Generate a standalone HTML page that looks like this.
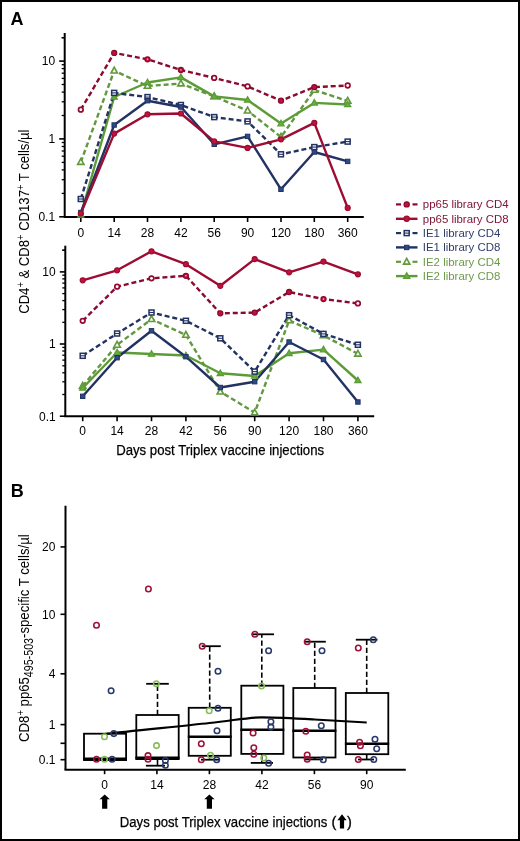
<!DOCTYPE html>
<html><head><meta charset="utf-8"><style>html,body{margin:0;padding:0;background:#fff;width:520px;height:841px;overflow:hidden}svg{display:block;will-change:transform}</style></head><body>
<svg width="520" height="841" viewBox="0 0 520 841">
<rect x="0" y="0" width="520" height="841" fill="#fff"/>
<text x="10.5" y="24.6" font-size="18" font-weight="bold" font-family="Liberation Sans, sans-serif">A</text>
<text x="10.8" y="496.9" font-size="18" font-weight="bold" font-family="Liberation Sans, sans-serif">B</text>
<line x1="64.7" y1="33" x2="64.7" y2="217" stroke="#000" stroke-width="2"/>
<line x1="63.7" y1="217" x2="363.8" y2="217" stroke="#000" stroke-width="2"/>
<line x1="61.7" y1="193.4" x2="64.7" y2="193.4" stroke="#000" stroke-width="1.3"/>
<line x1="61.7" y1="179.7" x2="64.7" y2="179.7" stroke="#000" stroke-width="1.3"/>
<line x1="61.7" y1="169.9" x2="64.7" y2="169.9" stroke="#000" stroke-width="1.3"/>
<line x1="61.7" y1="162.4" x2="64.7" y2="162.4" stroke="#000" stroke-width="1.3"/>
<line x1="61.7" y1="156.2" x2="64.7" y2="156.2" stroke="#000" stroke-width="1.3"/>
<line x1="61.7" y1="151.0" x2="64.7" y2="151.0" stroke="#000" stroke-width="1.3"/>
<line x1="61.7" y1="146.5" x2="64.7" y2="146.5" stroke="#000" stroke-width="1.3"/>
<line x1="61.7" y1="142.5" x2="64.7" y2="142.5" stroke="#000" stroke-width="1.3"/>
<line x1="61.7" y1="115.5" x2="64.7" y2="115.5" stroke="#000" stroke-width="1.3"/>
<line x1="61.7" y1="101.8" x2="64.7" y2="101.8" stroke="#000" stroke-width="1.3"/>
<line x1="61.7" y1="92.1" x2="64.7" y2="92.1" stroke="#000" stroke-width="1.3"/>
<line x1="61.7" y1="84.5" x2="64.7" y2="84.5" stroke="#000" stroke-width="1.3"/>
<line x1="61.7" y1="78.4" x2="64.7" y2="78.4" stroke="#000" stroke-width="1.3"/>
<line x1="61.7" y1="73.2" x2="64.7" y2="73.2" stroke="#000" stroke-width="1.3"/>
<line x1="61.7" y1="68.6" x2="64.7" y2="68.6" stroke="#000" stroke-width="1.3"/>
<line x1="61.7" y1="64.7" x2="64.7" y2="64.7" stroke="#000" stroke-width="1.3"/>
<line x1="61.7" y1="37.7" x2="64.7" y2="37.7" stroke="#000" stroke-width="1.3"/>
<line x1="61.7" y1="37.7" x2="64.7" y2="37.7" stroke="#000" stroke-width="1.3"/>
<line x1="59.2" y1="61.1" x2="64.7" y2="61.1" stroke="#000" stroke-width="1.6"/>
<text x="55.1" y="65.4" text-anchor="end" font-size="12" font-family="Liberation Sans, sans-serif">10</text>
<line x1="59.2" y1="138.9" x2="64.7" y2="138.9" stroke="#000" stroke-width="1.6"/>
<text x="55.1" y="143.2" text-anchor="end" font-size="12" font-family="Liberation Sans, sans-serif">1</text>
<line x1="59.2" y1="216.8" x2="64.7" y2="216.8" stroke="#000" stroke-width="1.6"/>
<text x="55.1" y="221.1" text-anchor="end" font-size="12" font-family="Liberation Sans, sans-serif">0.1</text>
<line x1="80.8" y1="217" x2="80.8" y2="222" stroke="#000" stroke-width="1.6"/>
<text x="80.8" y="237.0" text-anchor="middle" font-size="12" font-family="Liberation Sans, sans-serif">0</text>
<line x1="114.2" y1="217" x2="114.2" y2="222" stroke="#000" stroke-width="1.6"/>
<text x="114.2" y="237.0" text-anchor="middle" font-size="12" font-family="Liberation Sans, sans-serif">14</text>
<line x1="147.5" y1="217" x2="147.5" y2="222" stroke="#000" stroke-width="1.6"/>
<text x="147.5" y="237.0" text-anchor="middle" font-size="12" font-family="Liberation Sans, sans-serif">28</text>
<line x1="180.9" y1="217" x2="180.9" y2="222" stroke="#000" stroke-width="1.6"/>
<text x="180.9" y="237.0" text-anchor="middle" font-size="12" font-family="Liberation Sans, sans-serif">42</text>
<line x1="214.2" y1="217" x2="214.2" y2="222" stroke="#000" stroke-width="1.6"/>
<text x="214.2" y="237.0" text-anchor="middle" font-size="12" font-family="Liberation Sans, sans-serif">56</text>
<line x1="247.6" y1="217" x2="247.6" y2="222" stroke="#000" stroke-width="1.6"/>
<text x="247.6" y="237.0" text-anchor="middle" font-size="12" font-family="Liberation Sans, sans-serif">90</text>
<line x1="281.0" y1="217" x2="281.0" y2="222" stroke="#000" stroke-width="1.6"/>
<text x="281.0" y="237.0" text-anchor="middle" font-size="12" font-family="Liberation Sans, sans-serif">120</text>
<line x1="314.3" y1="217" x2="314.3" y2="222" stroke="#000" stroke-width="1.6"/>
<text x="314.3" y="237.0" text-anchor="middle" font-size="12" font-family="Liberation Sans, sans-serif">180</text>
<line x1="347.7" y1="217" x2="347.7" y2="222" stroke="#000" stroke-width="1.6"/>
<text x="347.7" y="237.0" text-anchor="middle" font-size="12" font-family="Liberation Sans, sans-serif">360</text>
<polyline points="80.8,162.1 114.2,70.7 147.5,86.0 180.9,83.6 214.2,96.4 247.6,110.7 281.0,137.0 314.3,90.0 347.7,101.0" fill="none" stroke="#62983f" stroke-width="2.4" stroke-dasharray="5,2.9" stroke-linejoin="round"/>
<polyline points="80.8,215.0 114.2,97.0 147.5,82.5 180.9,77.4 214.2,96.4 247.6,100.0 281.0,123.6 314.3,102.9 347.7,104.5" fill="none" stroke="#5c9c36" stroke-width="2.4" stroke-linejoin="round"/>
<polyline points="80.8,199.0 114.2,92.9 147.5,97.1 180.9,105.0 214.2,117.1 247.6,121.4 281.0,154.3 314.3,147.1 347.7,141.6" fill="none" stroke="#223262" stroke-width="2.4" stroke-dasharray="5,2.9" stroke-linejoin="round"/>
<polyline points="80.8,212.5 114.2,125.0 147.5,100.7 180.9,107.0 214.2,144.3 247.6,136.4 281.0,189.3 314.3,152.0 347.7,161.4" fill="none" stroke="#223262" stroke-width="2.4" stroke-linejoin="round"/>
<polyline points="80.8,109.7 114.2,52.9 147.5,59.3 180.9,70.0 214.2,77.9 247.6,86.4 281.0,100.7 314.3,87.1 347.7,85.5" fill="none" stroke="#8a0b30" stroke-width="2.4" stroke-dasharray="5,2.9" stroke-linejoin="round"/>
<polyline points="80.8,213.5 114.2,133.6 147.5,114.3 180.9,113.5 214.2,141.4 247.6,147.9 281.0,139.3 314.3,122.9 347.7,207.9" fill="none" stroke="#9c0c33" stroke-width="2.4" stroke-linejoin="round"/>
<polygon points="80.8,158.6 77.6,164.4 84.0,164.4" fill="#f4faef" stroke="#62983f" stroke-width="1.6" stroke-linejoin="miter"/>
<polygon points="114.2,67.2 111.0,73.0 117.4,73.0" fill="#f4faef" stroke="#62983f" stroke-width="1.6" stroke-linejoin="miter"/>
<polygon points="147.5,82.5 144.3,88.3 150.7,88.3" fill="#f4faef" stroke="#62983f" stroke-width="1.6" stroke-linejoin="miter"/>
<polygon points="180.9,80.1 177.7,85.9 184.1,85.9" fill="#f4faef" stroke="#62983f" stroke-width="1.6" stroke-linejoin="miter"/>
<polygon points="214.2,92.9 211.0,98.7 217.4,98.7" fill="#f4faef" stroke="#62983f" stroke-width="1.6" stroke-linejoin="miter"/>
<polygon points="247.6,107.2 244.4,113.0 250.8,113.0" fill="#f4faef" stroke="#62983f" stroke-width="1.6" stroke-linejoin="miter"/>
<polygon points="281.0,133.5 277.8,139.3 284.2,139.3" fill="#f4faef" stroke="#62983f" stroke-width="1.6" stroke-linejoin="miter"/>
<polygon points="314.3,86.5 311.1,92.3 317.5,92.3" fill="#f4faef" stroke="#62983f" stroke-width="1.6" stroke-linejoin="miter"/>
<polygon points="347.7,97.5 344.5,103.3 350.9,103.3" fill="#f4faef" stroke="#62983f" stroke-width="1.6" stroke-linejoin="miter"/>
<polygon points="80.8,211.7 77.7,217.2 83.9,217.2" fill="#66b03a" stroke="#5c9c36" stroke-width="1.3" stroke-linejoin="miter"/>
<polygon points="114.2,93.7 111.1,99.2 117.3,99.2" fill="#66b03a" stroke="#5c9c36" stroke-width="1.3" stroke-linejoin="miter"/>
<polygon points="147.5,79.2 144.4,84.7 150.6,84.7" fill="#66b03a" stroke="#5c9c36" stroke-width="1.3" stroke-linejoin="miter"/>
<polygon points="180.9,74.1 177.8,79.6 184.0,79.6" fill="#66b03a" stroke="#5c9c36" stroke-width="1.3" stroke-linejoin="miter"/>
<polygon points="214.2,93.1 211.1,98.6 217.3,98.6" fill="#66b03a" stroke="#5c9c36" stroke-width="1.3" stroke-linejoin="miter"/>
<polygon points="247.6,96.7 244.5,102.2 250.7,102.2" fill="#66b03a" stroke="#5c9c36" stroke-width="1.3" stroke-linejoin="miter"/>
<polygon points="281.0,120.3 277.9,125.8 284.1,125.8" fill="#66b03a" stroke="#5c9c36" stroke-width="1.3" stroke-linejoin="miter"/>
<polygon points="314.3,99.6 311.2,105.1 317.4,105.1" fill="#66b03a" stroke="#5c9c36" stroke-width="1.3" stroke-linejoin="miter"/>
<polygon points="347.7,101.2 344.6,106.7 350.8,106.7" fill="#66b03a" stroke="#5c9c36" stroke-width="1.3" stroke-linejoin="miter"/>
<rect x="78.30" y="196.50" width="5.0" height="5.0" fill="#ffffff" stroke="#223262" stroke-width="1.5"/>
<line x1="78.30" y1="199.00" x2="83.30" y2="199.00" stroke="#223262" stroke-width="1.1"/>
<rect x="111.66" y="90.40" width="5.0" height="5.0" fill="#ffffff" stroke="#223262" stroke-width="1.5"/>
<line x1="111.66" y1="92.90" x2="116.66" y2="92.90" stroke="#223262" stroke-width="1.1"/>
<rect x="145.02" y="94.60" width="5.0" height="5.0" fill="#ffffff" stroke="#223262" stroke-width="1.5"/>
<line x1="145.02" y1="97.10" x2="150.02" y2="97.10" stroke="#223262" stroke-width="1.1"/>
<rect x="178.38" y="102.50" width="5.0" height="5.0" fill="#ffffff" stroke="#223262" stroke-width="1.5"/>
<line x1="178.38" y1="105.00" x2="183.38" y2="105.00" stroke="#223262" stroke-width="1.1"/>
<rect x="211.74" y="114.60" width="5.0" height="5.0" fill="#ffffff" stroke="#223262" stroke-width="1.5"/>
<line x1="211.74" y1="117.10" x2="216.74" y2="117.10" stroke="#223262" stroke-width="1.1"/>
<rect x="245.10" y="118.90" width="5.0" height="5.0" fill="#ffffff" stroke="#223262" stroke-width="1.5"/>
<line x1="245.10" y1="121.40" x2="250.10" y2="121.40" stroke="#223262" stroke-width="1.1"/>
<rect x="278.46" y="151.80" width="5.0" height="5.0" fill="#ffffff" stroke="#223262" stroke-width="1.5"/>
<line x1="278.46" y1="154.30" x2="283.46" y2="154.30" stroke="#223262" stroke-width="1.1"/>
<rect x="311.82" y="144.60" width="5.0" height="5.0" fill="#ffffff" stroke="#223262" stroke-width="1.5"/>
<line x1="311.82" y1="147.10" x2="316.82" y2="147.10" stroke="#223262" stroke-width="1.1"/>
<rect x="345.18" y="139.10" width="5.0" height="5.0" fill="#ffffff" stroke="#223262" stroke-width="1.5"/>
<line x1="345.18" y1="141.60" x2="350.18" y2="141.60" stroke="#223262" stroke-width="1.1"/>
<rect x="78.60" y="210.30" width="4.4" height="4.4" fill="#2c4a85" stroke="#223262" stroke-width="1.0"/>
<rect x="111.96" y="122.80" width="4.4" height="4.4" fill="#2c4a85" stroke="#223262" stroke-width="1.0"/>
<rect x="145.32" y="98.50" width="4.4" height="4.4" fill="#2c4a85" stroke="#223262" stroke-width="1.0"/>
<rect x="178.68" y="104.80" width="4.4" height="4.4" fill="#2c4a85" stroke="#223262" stroke-width="1.0"/>
<rect x="212.04" y="142.10" width="4.4" height="4.4" fill="#2c4a85" stroke="#223262" stroke-width="1.0"/>
<rect x="245.40" y="134.20" width="4.4" height="4.4" fill="#2c4a85" stroke="#223262" stroke-width="1.0"/>
<rect x="278.76" y="187.10" width="4.4" height="4.4" fill="#2c4a85" stroke="#223262" stroke-width="1.0"/>
<rect x="312.12" y="149.80" width="4.4" height="4.4" fill="#2c4a85" stroke="#223262" stroke-width="1.0"/>
<rect x="345.48" y="159.20" width="4.4" height="4.4" fill="#2c4a85" stroke="#223262" stroke-width="1.0"/>
<circle cx="80.8" cy="109.7" r="2.5" fill="#c3113a" stroke="#8a0b30" stroke-width="1.3"/>
<circle cx="80.8" cy="109.7" r="1.4" fill="#fff"/>
<circle cx="114.2" cy="52.9" r="2.5" fill="#c3113a" stroke="#8a0b30" stroke-width="1.3"/>
<circle cx="147.5" cy="59.3" r="2.5" fill="#c3113a" stroke="#8a0b30" stroke-width="1.3"/>
<circle cx="147.5" cy="59.3" r="0.8" fill="#f4c0cc"/>
<circle cx="180.9" cy="70.0" r="2.5" fill="#c3113a" stroke="#8a0b30" stroke-width="1.3"/>
<circle cx="180.9" cy="70.0" r="0.8" fill="#f4c0cc"/>
<circle cx="214.2" cy="77.9" r="2.5" fill="#c3113a" stroke="#8a0b30" stroke-width="1.3"/>
<circle cx="214.2" cy="77.9" r="1.4" fill="#fff"/>
<circle cx="247.6" cy="86.4" r="2.5" fill="#c3113a" stroke="#8a0b30" stroke-width="1.3"/>
<circle cx="247.6" cy="86.4" r="1.4" fill="#fff"/>
<circle cx="281.0" cy="100.7" r="2.5" fill="#c3113a" stroke="#8a0b30" stroke-width="1.3"/>
<circle cx="314.3" cy="87.1" r="2.5" fill="#c3113a" stroke="#8a0b30" stroke-width="1.3"/>
<circle cx="347.7" cy="85.5" r="2.5" fill="#c3113a" stroke="#8a0b30" stroke-width="1.3"/>
<circle cx="347.7" cy="85.5" r="1.4" fill="#fff"/>
<circle cx="80.8" cy="213.5" r="2.5" fill="#c3113a" stroke="#9c0c33" stroke-width="1.2"/>
<circle cx="114.2" cy="133.6" r="2.5" fill="#c3113a" stroke="#9c0c33" stroke-width="1.2"/>
<circle cx="147.5" cy="114.3" r="2.5" fill="#c3113a" stroke="#9c0c33" stroke-width="1.2"/>
<circle cx="180.9" cy="113.5" r="2.5" fill="#c3113a" stroke="#9c0c33" stroke-width="1.2"/>
<circle cx="214.2" cy="141.4" r="2.5" fill="#c3113a" stroke="#9c0c33" stroke-width="1.2"/>
<circle cx="247.6" cy="147.9" r="2.5" fill="#c3113a" stroke="#9c0c33" stroke-width="1.2"/>
<circle cx="281.0" cy="139.3" r="2.5" fill="#c3113a" stroke="#9c0c33" stroke-width="1.2"/>
<circle cx="314.3" cy="122.9" r="2.5" fill="#c3113a" stroke="#9c0c33" stroke-width="1.2"/>
<circle cx="347.7" cy="207.9" r="2.5" fill="#c3113a" stroke="#9c0c33" stroke-width="1.2"/>
<line x1="65.3" y1="245.7" x2="65.3" y2="416.2" stroke="#000" stroke-width="2"/>
<line x1="64.3" y1="416.2" x2="374.2" y2="416.2" stroke="#000" stroke-width="2"/>
<line x1="62.3" y1="394.5" x2="65.3" y2="394.5" stroke="#000" stroke-width="1.3"/>
<line x1="62.3" y1="381.8" x2="65.3" y2="381.8" stroke="#000" stroke-width="1.3"/>
<line x1="62.3" y1="372.8" x2="65.3" y2="372.8" stroke="#000" stroke-width="1.3"/>
<line x1="62.3" y1="365.8" x2="65.3" y2="365.8" stroke="#000" stroke-width="1.3"/>
<line x1="62.3" y1="360.1" x2="65.3" y2="360.1" stroke="#000" stroke-width="1.3"/>
<line x1="62.3" y1="355.2" x2="65.3" y2="355.2" stroke="#000" stroke-width="1.3"/>
<line x1="62.3" y1="351.0" x2="65.3" y2="351.0" stroke="#000" stroke-width="1.3"/>
<line x1="62.3" y1="347.4" x2="65.3" y2="347.4" stroke="#000" stroke-width="1.3"/>
<line x1="62.3" y1="322.3" x2="65.3" y2="322.3" stroke="#000" stroke-width="1.3"/>
<line x1="62.3" y1="309.6" x2="65.3" y2="309.6" stroke="#000" stroke-width="1.3"/>
<line x1="62.3" y1="300.6" x2="65.3" y2="300.6" stroke="#000" stroke-width="1.3"/>
<line x1="62.3" y1="293.6" x2="65.3" y2="293.6" stroke="#000" stroke-width="1.3"/>
<line x1="62.3" y1="287.9" x2="65.3" y2="287.9" stroke="#000" stroke-width="1.3"/>
<line x1="62.3" y1="283.1" x2="65.3" y2="283.1" stroke="#000" stroke-width="1.3"/>
<line x1="62.3" y1="278.9" x2="65.3" y2="278.9" stroke="#000" stroke-width="1.3"/>
<line x1="62.3" y1="275.2" x2="65.3" y2="275.2" stroke="#000" stroke-width="1.3"/>
<line x1="62.3" y1="250.2" x2="65.3" y2="250.2" stroke="#000" stroke-width="1.3"/>
<line x1="62.3" y1="250.2" x2="65.3" y2="250.2" stroke="#000" stroke-width="1.3"/>
<line x1="59.8" y1="271.9" x2="65.3" y2="271.9" stroke="#000" stroke-width="1.6"/>
<text x="55.699999999999996" y="276.2" text-anchor="end" font-size="12" font-family="Liberation Sans, sans-serif">10</text>
<line x1="59.8" y1="344.0" x2="65.3" y2="344.0" stroke="#000" stroke-width="1.6"/>
<text x="55.699999999999996" y="348.3" text-anchor="end" font-size="12" font-family="Liberation Sans, sans-serif">1</text>
<line x1="59.8" y1="416.2" x2="65.3" y2="416.2" stroke="#000" stroke-width="1.6"/>
<text x="55.699999999999996" y="420.5" text-anchor="end" font-size="12" font-family="Liberation Sans, sans-serif">0.1</text>
<line x1="82.7" y1="416.2" x2="82.7" y2="421.2" stroke="#000" stroke-width="1.6"/>
<text x="82.7" y="434.7" text-anchor="middle" font-size="12" font-family="Liberation Sans, sans-serif">0</text>
<line x1="117.1" y1="416.2" x2="117.1" y2="421.2" stroke="#000" stroke-width="1.6"/>
<text x="117.1" y="434.7" text-anchor="middle" font-size="12" font-family="Liberation Sans, sans-serif">14</text>
<line x1="151.5" y1="416.2" x2="151.5" y2="421.2" stroke="#000" stroke-width="1.6"/>
<text x="151.5" y="434.7" text-anchor="middle" font-size="12" font-family="Liberation Sans, sans-serif">28</text>
<line x1="185.9" y1="416.2" x2="185.9" y2="421.2" stroke="#000" stroke-width="1.6"/>
<text x="185.9" y="434.7" text-anchor="middle" font-size="12" font-family="Liberation Sans, sans-serif">42</text>
<line x1="220.3" y1="416.2" x2="220.3" y2="421.2" stroke="#000" stroke-width="1.6"/>
<text x="220.3" y="434.7" text-anchor="middle" font-size="12" font-family="Liberation Sans, sans-serif">56</text>
<line x1="254.7" y1="416.2" x2="254.7" y2="421.2" stroke="#000" stroke-width="1.6"/>
<text x="254.7" y="434.7" text-anchor="middle" font-size="12" font-family="Liberation Sans, sans-serif">90</text>
<line x1="289.1" y1="416.2" x2="289.1" y2="421.2" stroke="#000" stroke-width="1.6"/>
<text x="289.1" y="434.7" text-anchor="middle" font-size="12" font-family="Liberation Sans, sans-serif">120</text>
<line x1="323.5" y1="416.2" x2="323.5" y2="421.2" stroke="#000" stroke-width="1.6"/>
<text x="323.5" y="434.7" text-anchor="middle" font-size="12" font-family="Liberation Sans, sans-serif">180</text>
<line x1="357.9" y1="416.2" x2="357.9" y2="421.2" stroke="#000" stroke-width="1.6"/>
<text x="357.9" y="434.7" text-anchor="middle" font-size="12" font-family="Liberation Sans, sans-serif">360</text>
<polyline points="82.7,386.0 117.1,344.9 151.5,319.2 185.9,335.0 220.3,391.7 254.7,412.6 289.1,320.5 323.5,335.5 357.9,353.8" fill="none" stroke="#62983f" stroke-width="2.4" stroke-dasharray="5,2.9" stroke-linejoin="round"/>
<polyline points="82.7,388.0 117.1,352.5 151.5,354.0 185.9,355.5 220.3,373.3 254.7,376.0 289.1,353.3 323.5,349.6 357.9,380.5" fill="none" stroke="#5c9c36" stroke-width="2.4" stroke-linejoin="round"/>
<polyline points="82.7,355.8 117.1,333.5 151.5,312.5 185.9,320.8 220.3,338.3 254.7,371.6 289.1,315.2 323.5,333.9 357.9,344.8" fill="none" stroke="#223262" stroke-width="2.4" stroke-dasharray="5,2.9" stroke-linejoin="round"/>
<polyline points="82.7,396.3 117.1,357.7 151.5,330.8 185.9,356.7 220.3,387.5 254.7,381.7 289.1,342.0 323.5,359.5 357.9,402.0" fill="none" stroke="#223262" stroke-width="2.4" stroke-linejoin="round"/>
<polyline points="82.7,320.8 117.1,286.7 151.5,278.3 185.9,275.8 220.3,313.3 254.7,312.6 289.1,292.0 323.5,299.1 357.9,303.4" fill="none" stroke="#8a0b30" stroke-width="2.4" stroke-dasharray="5,2.9" stroke-linejoin="round"/>
<polyline points="82.7,280.3 117.1,270.3 151.5,251.3 185.9,264.2 220.3,285.8 254.7,259.1 289.1,272.3 323.5,261.6 357.9,274.3" fill="none" stroke="#9c0c33" stroke-width="2.4" stroke-linejoin="round"/>
<polygon points="82.7,382.5 79.5,388.3 85.9,388.3" fill="#f4faef" stroke="#62983f" stroke-width="1.6" stroke-linejoin="miter"/>
<polygon points="117.1,341.4 113.9,347.2 120.3,347.2" fill="#f4faef" stroke="#62983f" stroke-width="1.6" stroke-linejoin="miter"/>
<polygon points="151.5,315.7 148.3,321.5 154.7,321.5" fill="#f4faef" stroke="#62983f" stroke-width="1.6" stroke-linejoin="miter"/>
<polygon points="185.9,331.5 182.7,337.3 189.1,337.3" fill="#f4faef" stroke="#62983f" stroke-width="1.6" stroke-linejoin="miter"/>
<polygon points="220.3,388.2 217.1,394.0 223.5,394.0" fill="#f4faef" stroke="#62983f" stroke-width="1.6" stroke-linejoin="miter"/>
<polygon points="254.7,409.1 251.5,414.9 257.9,414.9" fill="#f4faef" stroke="#62983f" stroke-width="1.6" stroke-linejoin="miter"/>
<polygon points="289.1,317.0 285.9,322.8 292.3,322.8" fill="#f4faef" stroke="#62983f" stroke-width="1.6" stroke-linejoin="miter"/>
<polygon points="323.5,332.0 320.3,337.8 326.7,337.8" fill="#f4faef" stroke="#62983f" stroke-width="1.6" stroke-linejoin="miter"/>
<polygon points="357.9,350.3 354.7,356.1 361.1,356.1" fill="#f4faef" stroke="#62983f" stroke-width="1.6" stroke-linejoin="miter"/>
<polygon points="82.7,384.7 79.6,390.2 85.8,390.2" fill="#66b03a" stroke="#5c9c36" stroke-width="1.3" stroke-linejoin="miter"/>
<polygon points="117.1,349.2 114.0,354.7 120.2,354.7" fill="#66b03a" stroke="#5c9c36" stroke-width="1.3" stroke-linejoin="miter"/>
<polygon points="151.5,350.7 148.4,356.2 154.6,356.2" fill="#66b03a" stroke="#5c9c36" stroke-width="1.3" stroke-linejoin="miter"/>
<polygon points="185.9,352.2 182.8,357.7 189.0,357.7" fill="#66b03a" stroke="#5c9c36" stroke-width="1.3" stroke-linejoin="miter"/>
<polygon points="220.3,370.0 217.2,375.5 223.4,375.5" fill="#66b03a" stroke="#5c9c36" stroke-width="1.3" stroke-linejoin="miter"/>
<polygon points="254.7,372.7 251.6,378.2 257.8,378.2" fill="#66b03a" stroke="#5c9c36" stroke-width="1.3" stroke-linejoin="miter"/>
<polygon points="289.1,350.0 286.0,355.5 292.2,355.5" fill="#66b03a" stroke="#5c9c36" stroke-width="1.3" stroke-linejoin="miter"/>
<polygon points="323.5,346.3 320.4,351.8 326.6,351.8" fill="#66b03a" stroke="#5c9c36" stroke-width="1.3" stroke-linejoin="miter"/>
<polygon points="357.9,377.2 354.8,382.7 361.0,382.7" fill="#66b03a" stroke="#5c9c36" stroke-width="1.3" stroke-linejoin="miter"/>
<rect x="80.20" y="353.30" width="5.0" height="5.0" fill="#ffffff" stroke="#223262" stroke-width="1.5"/>
<line x1="80.20" y1="355.80" x2="85.20" y2="355.80" stroke="#223262" stroke-width="1.1"/>
<rect x="114.60" y="331.00" width="5.0" height="5.0" fill="#ffffff" stroke="#223262" stroke-width="1.5"/>
<line x1="114.60" y1="333.50" x2="119.60" y2="333.50" stroke="#223262" stroke-width="1.1"/>
<rect x="149.00" y="310.00" width="5.0" height="5.0" fill="#ffffff" stroke="#223262" stroke-width="1.5"/>
<line x1="149.00" y1="312.50" x2="154.00" y2="312.50" stroke="#223262" stroke-width="1.1"/>
<rect x="183.40" y="318.30" width="5.0" height="5.0" fill="#ffffff" stroke="#223262" stroke-width="1.5"/>
<line x1="183.40" y1="320.80" x2="188.40" y2="320.80" stroke="#223262" stroke-width="1.1"/>
<rect x="217.80" y="335.80" width="5.0" height="5.0" fill="#ffffff" stroke="#223262" stroke-width="1.5"/>
<line x1="217.80" y1="338.30" x2="222.80" y2="338.30" stroke="#223262" stroke-width="1.1"/>
<rect x="252.20" y="369.10" width="5.0" height="5.0" fill="#ffffff" stroke="#223262" stroke-width="1.5"/>
<line x1="252.20" y1="371.60" x2="257.20" y2="371.60" stroke="#223262" stroke-width="1.1"/>
<rect x="286.60" y="312.70" width="5.0" height="5.0" fill="#ffffff" stroke="#223262" stroke-width="1.5"/>
<line x1="286.60" y1="315.20" x2="291.60" y2="315.20" stroke="#223262" stroke-width="1.1"/>
<rect x="321.00" y="331.40" width="5.0" height="5.0" fill="#ffffff" stroke="#223262" stroke-width="1.5"/>
<line x1="321.00" y1="333.90" x2="326.00" y2="333.90" stroke="#223262" stroke-width="1.1"/>
<rect x="355.40" y="342.30" width="5.0" height="5.0" fill="#ffffff" stroke="#223262" stroke-width="1.5"/>
<line x1="355.40" y1="344.80" x2="360.40" y2="344.80" stroke="#223262" stroke-width="1.1"/>
<rect x="80.50" y="394.10" width="4.4" height="4.4" fill="#2c4a85" stroke="#223262" stroke-width="1.0"/>
<rect x="114.90" y="355.50" width="4.4" height="4.4" fill="#2c4a85" stroke="#223262" stroke-width="1.0"/>
<rect x="149.30" y="328.60" width="4.4" height="4.4" fill="#2c4a85" stroke="#223262" stroke-width="1.0"/>
<rect x="183.70" y="354.50" width="4.4" height="4.4" fill="#2c4a85" stroke="#223262" stroke-width="1.0"/>
<rect x="218.10" y="385.30" width="4.4" height="4.4" fill="#2c4a85" stroke="#223262" stroke-width="1.0"/>
<rect x="252.50" y="379.50" width="4.4" height="4.4" fill="#2c4a85" stroke="#223262" stroke-width="1.0"/>
<rect x="286.90" y="339.80" width="4.4" height="4.4" fill="#2c4a85" stroke="#223262" stroke-width="1.0"/>
<rect x="321.30" y="357.30" width="4.4" height="4.4" fill="#2c4a85" stroke="#223262" stroke-width="1.0"/>
<rect x="355.70" y="399.80" width="4.4" height="4.4" fill="#2c4a85" stroke="#223262" stroke-width="1.0"/>
<circle cx="82.7" cy="320.8" r="2.5" fill="#c3113a" stroke="#8a0b30" stroke-width="1.3"/>
<circle cx="82.7" cy="320.8" r="1.4" fill="#fff"/>
<circle cx="117.1" cy="286.7" r="2.5" fill="#c3113a" stroke="#8a0b30" stroke-width="1.3"/>
<circle cx="117.1" cy="286.7" r="1.4" fill="#fff"/>
<circle cx="151.5" cy="278.3" r="2.5" fill="#c3113a" stroke="#8a0b30" stroke-width="1.3"/>
<circle cx="151.5" cy="278.3" r="1.4" fill="#fff"/>
<circle cx="185.9" cy="275.8" r="2.5" fill="#c3113a" stroke="#8a0b30" stroke-width="1.3"/>
<circle cx="185.9" cy="275.8" r="0.8" fill="#f4c0cc"/>
<circle cx="220.3" cy="313.3" r="2.5" fill="#c3113a" stroke="#8a0b30" stroke-width="1.3"/>
<circle cx="254.7" cy="312.6" r="2.5" fill="#c3113a" stroke="#8a0b30" stroke-width="1.3"/>
<circle cx="289.1" cy="292.0" r="2.5" fill="#c3113a" stroke="#8a0b30" stroke-width="1.3"/>
<circle cx="323.5" cy="299.1" r="2.5" fill="#c3113a" stroke="#8a0b30" stroke-width="1.3"/>
<circle cx="323.5" cy="299.1" r="0.8" fill="#f4c0cc"/>
<circle cx="357.9" cy="303.4" r="2.5" fill="#c3113a" stroke="#8a0b30" stroke-width="1.3"/>
<circle cx="357.9" cy="303.4" r="1.4" fill="#fff"/>
<circle cx="82.7" cy="280.3" r="2.5" fill="#c3113a" stroke="#9c0c33" stroke-width="1.2"/>
<circle cx="117.1" cy="270.3" r="2.5" fill="#c3113a" stroke="#9c0c33" stroke-width="1.2"/>
<circle cx="151.5" cy="251.3" r="2.5" fill="#c3113a" stroke="#9c0c33" stroke-width="1.2"/>
<circle cx="185.9" cy="264.2" r="2.5" fill="#c3113a" stroke="#9c0c33" stroke-width="1.2"/>
<circle cx="220.3" cy="285.8" r="2.5" fill="#c3113a" stroke="#9c0c33" stroke-width="1.2"/>
<circle cx="254.7" cy="259.1" r="2.5" fill="#c3113a" stroke="#9c0c33" stroke-width="1.2"/>
<circle cx="289.1" cy="272.3" r="2.5" fill="#c3113a" stroke="#9c0c33" stroke-width="1.2"/>
<circle cx="323.5" cy="261.6" r="2.5" fill="#c3113a" stroke="#9c0c33" stroke-width="1.2"/>
<circle cx="357.9" cy="274.3" r="2.5" fill="#c3113a" stroke="#9c0c33" stroke-width="1.2"/>
<text x="116.2" y="454.7" font-size="15.2" stroke="#000" stroke-width="0.25" textLength="207.9" lengthAdjust="spacingAndGlyphs" font-family="Liberation Sans, sans-serif">Days post Triplex vaccine injections</text>
<text transform="translate(28.8,313.8) rotate(-90)" font-size="14.8" textLength="184.3" lengthAdjust="spacingAndGlyphs" font-family="Liberation Sans, sans-serif">CD4<tspan font-size="10.5" dy="-5.2">+</tspan><tspan dy="5.2"> &amp; CD8</tspan><tspan font-size="10.5" dy="-5.2">+</tspan><tspan dy="5.2"> CD137</tspan><tspan font-size="10.5" dy="-5.2">+</tspan><tspan dy="5.2"> T cells/µl</tspan></text>
<line x1="396" y1="204.4" x2="401" y2="204.4" stroke="#8a0b30" stroke-width="2.2"/>
<line x1="412.5" y1="204.4" x2="417.5" y2="204.4" stroke="#8a0b30" stroke-width="2.2"/>
<circle cx="406.7" cy="204.4" r="2.6" fill="#c3113a" stroke="#8a0b30" stroke-width="1.2"/>
<text x="422.8" y="208.4" font-size="11.45" fill="#801636" font-family="Liberation Sans, sans-serif">pp65 library CD4</text>
<line x1="396" y1="218.8" x2="417.5" y2="218.8" stroke="#9c0c33" stroke-width="2.4"/>
<circle cx="406.7" cy="218.8" r="2.6" fill="#c3113a" stroke="#9c0c33" stroke-width="1.2"/>
<text x="422.8" y="222.8" font-size="11.45" fill="#801636" font-family="Liberation Sans, sans-serif">pp65 library CD8</text>
<line x1="396" y1="233.1" x2="401" y2="233.1" stroke="#223262" stroke-width="2.2"/>
<line x1="412.5" y1="233.1" x2="417.5" y2="233.1" stroke="#223262" stroke-width="2.2"/>
<rect x="404.20" y="230.60" width="5.0" height="5.0" fill="#fff" stroke="#223262" stroke-width="1.5"/>
<line x1="404.20" y1="233.10" x2="409.20" y2="233.10" stroke="#223262" stroke-width="1.1"/>
<text x="422.8" y="237.1" font-size="11.45" fill="#2f3d6a" font-family="Liberation Sans, sans-serif">IE1 library CD4</text>
<line x1="396" y1="247.4" x2="417.5" y2="247.4" stroke="#223262" stroke-width="2.4"/>
<rect x="404.50" y="245.25" width="4.4" height="4.4" fill="#2c4a85" stroke="#223262" stroke-width="1.0"/>
<text x="422.8" y="251.4" font-size="11.45" fill="#2f3d6a" font-family="Liberation Sans, sans-serif">IE1 library CD8</text>
<line x1="396" y1="261.8" x2="401" y2="261.8" stroke="#62983f" stroke-width="2.2"/>
<line x1="412.5" y1="261.8" x2="417.5" y2="261.8" stroke="#62983f" stroke-width="2.2"/>
<polygon points="406.7,258.3 403.5,264.1 409.9,264.1" fill="#f4faef" stroke="#62983f" stroke-width="1.6" stroke-linejoin="miter"/>
<text x="422.8" y="265.8" font-size="11.45" fill="#6d9a4a" font-family="Liberation Sans, sans-serif">IE2 library CD4</text>
<line x1="396" y1="276.1" x2="417.5" y2="276.1" stroke="#5c9c36" stroke-width="2.4"/>
<polygon points="406.7,272.8 403.6,278.4 409.8,278.4" fill="#66b03a" stroke="#5c9c36" stroke-width="1.3" stroke-linejoin="miter"/>
<text x="422.8" y="280.1" font-size="11.45" fill="#6d9a4a" font-family="Liberation Sans, sans-serif">IE2 library CD8</text>
<line x1="65.5" y1="505.7" x2="65.5" y2="769.7" stroke="#000" stroke-width="2"/>
<line x1="64.5" y1="769.7" x2="405.8" y2="769.7" stroke="#000" stroke-width="2"/>
<line x1="60.5" y1="546.9" x2="65.5" y2="546.9" stroke="#000" stroke-width="1.6"/>
<text x="55.4" y="551.2" text-anchor="end" font-size="12" font-family="Liberation Sans, sans-serif">20</text>
<line x1="60.5" y1="614.3" x2="65.5" y2="614.3" stroke="#000" stroke-width="1.6"/>
<text x="55.4" y="618.6" text-anchor="end" font-size="12" font-family="Liberation Sans, sans-serif">10</text>
<line x1="60.5" y1="673.8" x2="65.5" y2="673.8" stroke="#000" stroke-width="1.6"/>
<text x="55.4" y="678.1" text-anchor="end" font-size="12" font-family="Liberation Sans, sans-serif">4</text>
<line x1="60.5" y1="724.6" x2="65.5" y2="724.6" stroke="#000" stroke-width="1.6"/>
<text x="55.4" y="728.9" text-anchor="end" font-size="12" font-family="Liberation Sans, sans-serif">1</text>
<line x1="60.5" y1="743.3" x2="65.5" y2="743.3" stroke="#000" stroke-width="1.6"/>
<line x1="60.5" y1="759.7" x2="65.5" y2="759.7" stroke="#000" stroke-width="1.6"/>
<text x="55.4" y="764.0" text-anchor="end" font-size="12" font-family="Liberation Sans, sans-serif">0.1</text>
<line x1="104.6" y1="769.7" x2="104.6" y2="774.2" stroke="#000" stroke-width="1.6"/>
<text x="104.6" y="788.8" text-anchor="middle" font-size="12" font-family="Liberation Sans, sans-serif">0</text>
<line x1="156.9" y1="769.7" x2="156.9" y2="774.2" stroke="#000" stroke-width="1.6"/>
<text x="156.9" y="788.8" text-anchor="middle" font-size="12" font-family="Liberation Sans, sans-serif">14</text>
<line x1="209.4" y1="769.7" x2="209.4" y2="774.2" stroke="#000" stroke-width="1.6"/>
<text x="209.4" y="788.8" text-anchor="middle" font-size="12" font-family="Liberation Sans, sans-serif">28</text>
<line x1="261.9" y1="769.7" x2="261.9" y2="774.2" stroke="#000" stroke-width="1.6"/>
<text x="261.9" y="788.8" text-anchor="middle" font-size="12" font-family="Liberation Sans, sans-serif">42</text>
<line x1="314.4" y1="769.7" x2="314.4" y2="774.2" stroke="#000" stroke-width="1.6"/>
<text x="314.4" y="788.8" text-anchor="middle" font-size="12" font-family="Liberation Sans, sans-serif">56</text>
<line x1="366.7" y1="769.7" x2="366.7" y2="774.2" stroke="#000" stroke-width="1.6"/>
<text x="366.7" y="788.8" text-anchor="middle" font-size="12" font-family="Liberation Sans, sans-serif">90</text>
<rect x="84" y="733.7" width="42.1" height="25.5" fill="none" stroke="#000" stroke-width="1.8"/>
<line x1="83.1" y1="759.2" x2="127.0" y2="759.2" stroke="#000" stroke-width="3.4"/>
<rect x="136.3" y="715" width="42.4" height="43.3" fill="none" stroke="#000" stroke-width="1.8"/>
<line x1="135.4" y1="758.3" x2="179.6" y2="758.3" stroke="#000" stroke-width="3.4"/>
<line x1="157.5" y1="715" x2="157.5" y2="683.8" stroke="#000" stroke-width="1.6" stroke-dasharray="5.2,2.8"/>
<line x1="146.2" y1="683.8" x2="168.8" y2="683.8" stroke="#000" stroke-width="1.8"/>
<line x1="157.5" y1="758.3" x2="157.5" y2="765.7" stroke="#000" stroke-width="1.6"/>
<line x1="145.9" y1="765.7" x2="165" y2="765.7" stroke="#000" stroke-width="1.8"/>
<rect x="188.7" y="707.8" width="42.1" height="48.0" fill="none" stroke="#000" stroke-width="1.8"/>
<line x1="187.79999999999998" y1="736.7" x2="231.70000000000002" y2="736.7" stroke="#000" stroke-width="2.5"/>
<line x1="209.7" y1="707.8" x2="209.7" y2="646.2" stroke="#000" stroke-width="1.6" stroke-dasharray="5.2,2.8"/>
<line x1="201.7" y1="646.2" x2="220.8" y2="646.2" stroke="#000" stroke-width="1.8"/>
<line x1="209.7" y1="755.8" x2="209.7" y2="759.7" stroke="#000" stroke-width="1.6"/>
<line x1="201" y1="759.7" x2="220" y2="759.7" stroke="#000" stroke-width="1.8"/>
<rect x="241.3" y="685.7" width="42.1" height="68.2" fill="none" stroke="#000" stroke-width="1.8"/>
<line x1="240.4" y1="729.8" x2="284.29999999999995" y2="729.8" stroke="#000" stroke-width="2.5"/>
<line x1="261.8" y1="685.7" x2="261.8" y2="634.3" stroke="#000" stroke-width="1.6" stroke-dasharray="5.2,2.8"/>
<line x1="251.6" y1="634.3" x2="274" y2="634.3" stroke="#000" stroke-width="1.8"/>
<line x1="261.8" y1="753.9" x2="261.8" y2="762.9" stroke="#000" stroke-width="1.6"/>
<line x1="250.8" y1="762.9" x2="273" y2="762.9" stroke="#000" stroke-width="1.8"/>
<rect x="293.3" y="688" width="42.2" height="69.5" fill="none" stroke="#000" stroke-width="1.8"/>
<line x1="292.40000000000003" y1="730.8" x2="336.4" y2="730.8" stroke="#000" stroke-width="2.5"/>
<line x1="314.7" y1="688" x2="314.7" y2="641.7" stroke="#000" stroke-width="1.6" stroke-dasharray="5.2,2.8"/>
<line x1="305" y1="641.7" x2="325.8" y2="641.7" stroke="#000" stroke-width="1.8"/>
<line x1="314.7" y1="757.5" x2="314.7" y2="759.4" stroke="#000" stroke-width="1.6"/>
<line x1="305" y1="759.4" x2="323" y2="759.4" stroke="#000" stroke-width="1.8"/>
<rect x="345.8" y="693" width="42.5" height="61.2" fill="none" stroke="#000" stroke-width="1.8"/>
<line x1="344.90000000000003" y1="743.8" x2="389.2" y2="743.8" stroke="#000" stroke-width="2.5"/>
<line x1="366.7" y1="693" x2="366.7" y2="639.7" stroke="#000" stroke-width="1.6" stroke-dasharray="5.2,2.8"/>
<line x1="355.8" y1="639.7" x2="377.5" y2="639.7" stroke="#000" stroke-width="1.8"/>
<line x1="366.7" y1="754.2" x2="366.7" y2="759.5" stroke="#000" stroke-width="1.6"/>
<line x1="358" y1="759.5" x2="374" y2="759.5" stroke="#000" stroke-width="1.8"/>
<path d="M104.6,734 C130,731 183,726 209.4,723 C236,720 250,717.3 262,717.3 C280,717.3 300,718.6 314.4,719.5 C335,720.8 352,721.8 366.7,722.5" fill="none" stroke="#000" stroke-width="2.2"/>
<circle cx="96.5" cy="625.2" r="2.75" fill="none" stroke="#9c1238" stroke-width="1.55"/>
<circle cx="111.1" cy="690.8" r="2.75" fill="none" stroke="#29386a" stroke-width="1.55"/>
<circle cx="104.5" cy="736.8" r="2.75" fill="none" stroke="#86bd5a" stroke-width="1.55"/>
<circle cx="113.8" cy="733.6" r="2.75" fill="none" stroke="#29386a" stroke-width="1.55"/>
<circle cx="96.5" cy="759.2" r="2.75" fill="none" stroke="#9c1238" stroke-width="1.55"/>
<circle cx="104.5" cy="759.2" r="2.75" fill="none" stroke="#86bd5a" stroke-width="1.55"/>
<circle cx="112.1" cy="759.2" r="2.75" fill="none" stroke="#29386a" stroke-width="1.55"/>
<circle cx="148.4" cy="589" r="2.75" fill="none" stroke="#9c1238" stroke-width="1.55"/>
<circle cx="156.3" cy="683.8" r="2.75" fill="none" stroke="#86bd5a" stroke-width="1.55"/>
<circle cx="156.5" cy="745.6" r="2.75" fill="none" stroke="#86bd5a" stroke-width="1.55"/>
<circle cx="148" cy="755.6" r="2.75" fill="none" stroke="#9c1238" stroke-width="1.55"/>
<circle cx="148" cy="759.3" r="2.75" fill="none" stroke="#9c1238" stroke-width="1.55"/>
<circle cx="165.4" cy="760.4" r="2.75" fill="none" stroke="#29386a" stroke-width="1.55"/>
<circle cx="165.4" cy="765.2" r="2.75" fill="none" stroke="#29386a" stroke-width="1.55"/>
<circle cx="202.2" cy="646.2" r="2.75" fill="none" stroke="#9c1238" stroke-width="1.55"/>
<circle cx="218" cy="671.2" r="2.75" fill="none" stroke="#29386a" stroke-width="1.55"/>
<circle cx="209.2" cy="710.8" r="2.75" fill="none" stroke="#86bd5a" stroke-width="1.55"/>
<circle cx="218" cy="708.3" r="2.75" fill="none" stroke="#29386a" stroke-width="1.55"/>
<circle cx="217" cy="730.8" r="2.75" fill="none" stroke="#29386a" stroke-width="1.55"/>
<circle cx="201.3" cy="743.8" r="2.75" fill="none" stroke="#9c1238" stroke-width="1.55"/>
<circle cx="210.5" cy="755.3" r="2.75" fill="none" stroke="#86bd5a" stroke-width="1.55"/>
<circle cx="201.3" cy="759.7" r="2.75" fill="none" stroke="#9c1238" stroke-width="1.55"/>
<circle cx="216.7" cy="759.7" r="2.75" fill="none" stroke="#29386a" stroke-width="1.55"/>
<circle cx="254.9" cy="634.3" r="2.75" fill="none" stroke="#9c1238" stroke-width="1.55"/>
<circle cx="268.6" cy="650.7" r="2.75" fill="none" stroke="#29386a" stroke-width="1.55"/>
<circle cx="261.5" cy="686" r="2.75" fill="none" stroke="#86bd5a" stroke-width="1.55"/>
<circle cx="270.9" cy="721.8" r="2.75" fill="none" stroke="#29386a" stroke-width="1.55"/>
<circle cx="270.9" cy="727.1" r="2.75" fill="none" stroke="#29386a" stroke-width="1.55"/>
<circle cx="253.1" cy="732.9" r="2.75" fill="none" stroke="#9c1238" stroke-width="1.55"/>
<circle cx="253.8" cy="747.7" r="2.75" fill="none" stroke="#9c1238" stroke-width="1.55"/>
<circle cx="253.8" cy="754.3" r="2.75" fill="none" stroke="#9c1238" stroke-width="1.55"/>
<circle cx="263.8" cy="757.9" r="2.75" fill="none" stroke="#86bd5a" stroke-width="1.55"/>
<circle cx="268.6" cy="763.2" r="2.75" fill="none" stroke="#29386a" stroke-width="1.55"/>
<circle cx="307.2" cy="641.7" r="2.75" fill="none" stroke="#9c1238" stroke-width="1.55"/>
<circle cx="322" cy="650.8" r="2.75" fill="none" stroke="#29386a" stroke-width="1.55"/>
<circle cx="321.3" cy="725.8" r="2.75" fill="none" stroke="#29386a" stroke-width="1.55"/>
<circle cx="305.8" cy="731.2" r="2.75" fill="none" stroke="#9c1238" stroke-width="1.55"/>
<circle cx="307.2" cy="755" r="2.75" fill="none" stroke="#9c1238" stroke-width="1.55"/>
<circle cx="307.2" cy="759.2" r="2.75" fill="none" stroke="#9c1238" stroke-width="1.55"/>
<circle cx="323.3" cy="759.7" r="2.75" fill="none" stroke="#29386a" stroke-width="1.55"/>
<circle cx="373.3" cy="639.7" r="2.75" fill="none" stroke="#29386a" stroke-width="1.55"/>
<circle cx="358.3" cy="648" r="2.75" fill="none" stroke="#9c1238" stroke-width="1.55"/>
<circle cx="375" cy="739.2" r="2.75" fill="none" stroke="#29386a" stroke-width="1.55"/>
<circle cx="376.7" cy="748.8" r="2.75" fill="none" stroke="#29386a" stroke-width="1.55"/>
<circle cx="359.6" cy="742.2" r="2.75" fill="none" stroke="#9c1238" stroke-width="1.55"/>
<circle cx="360.4" cy="745.8" r="2.75" fill="none" stroke="#9c1238" stroke-width="1.55"/>
<circle cx="358.3" cy="759.5" r="2.75" fill="none" stroke="#9c1238" stroke-width="1.55"/>
<circle cx="373.8" cy="759.5" r="2.75" fill="none" stroke="#29386a" stroke-width="1.55"/>
<path d="M104.7,794.6 L109.9,799.2 L107.3,799.2 L107.3,808.8 L102.10000000000001,808.8 L102.10000000000001,799.2 L99.5,799.2 Z" fill="#000"/>
<path d="M209.4,794.6 L214.6,799.2 L212.0,799.2 L212.0,808.8 L206.8,808.8 L206.8,799.2 L204.20000000000002,799.2 Z" fill="#000"/>
<text x="119.8" y="826.7" font-size="15.2" stroke="#000" stroke-width="0.25" textLength="207.5" lengthAdjust="spacingAndGlyphs" font-family="Liberation Sans, sans-serif">Days post Triplex vaccine injections</text>
<text x="331.6" y="826.7" font-size="14.5" stroke="#000" stroke-width="0.35" font-family="Liberation Sans, sans-serif">(</text>
<text x="346.9" y="826.7" font-size="14.5" stroke="#000" stroke-width="0.35" font-family="Liberation Sans, sans-serif">)</text>
<path d="M342.0,814.3 L346.6,820.3 L344.1,820.3 L344.1,828.6 L339.9,828.6 L339.9,820.3 L337.4,820.3 Z" fill="#000"/>
<text transform="translate(29.0,741.9) rotate(-90)" font-size="14.8" textLength="207.6" lengthAdjust="spacingAndGlyphs" font-family="Liberation Sans, sans-serif">CD8<tspan font-size="10.5" dy="-5.2">+</tspan><tspan dy="5.2"> pp65</tspan><tspan font-size="12" dy="4">495-503</tspan><tspan dy="-4">-specific T cells/µl</tspan></text>
<rect x="1" y="1" width="518" height="839" fill="none" stroke="#000" stroke-width="2"/>
</svg>
</body></html>
